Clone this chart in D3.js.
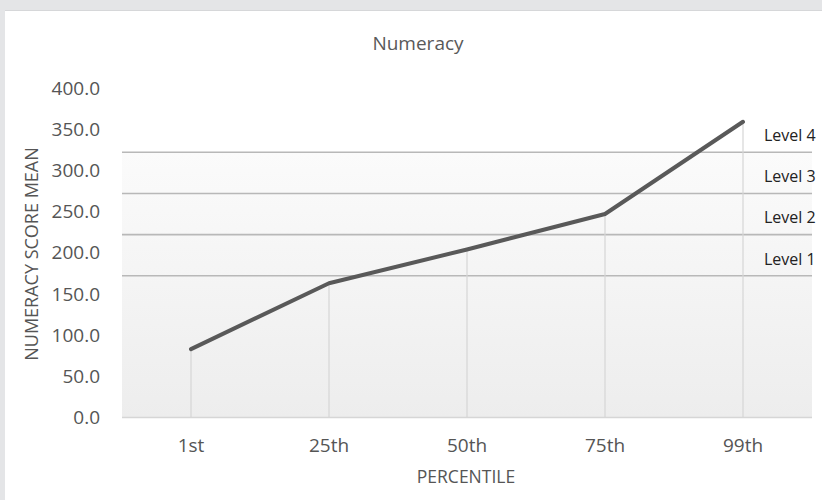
<!DOCTYPE html>
<html>
<head>
<meta charset="utf-8">
<script src="https://cdn.jsdelivr.net/npm/d3@7/dist/d3.min.js"></script>
<style>
  html, body { margin: 0; padding: 0; background: #e4e5e7; }
  svg { display: block; }
</style>
</head>
<body>
<svg id="chart" width="822" height="500"></svg>
<script>
const categories = ["1st", "25th", "50th", "75th", "99th"];
const scores = [83, 163, 204, 247, 359];
const yTicks = [0, 50, 100, 150, 200, 250, 300, 350, 400];
const levelNames = ["Level 1", "Level 2", "Level 3", "Level 4"];
const levelBounds = [172, 222, 272, 322];

const svg = d3.select("#chart");
const W = 822, H = 500;
const m = { left: 122, right: 10, top: 88, bottom: 82.5 };

// panel
svg.append("rect").attr("x", 0).attr("y", 0).attr("width", W).attr("height", H).attr("fill", "#e4e5e7");
svg.append("rect").attr("x", 5).attr("y", 10).attr("width", W - 5).attr("height", H - 10).attr("fill", "#d6d7d9");
svg.append("rect").attr("x", 5).attr("y", 11).attr("width", W - 5).attr("height", H - 11).attr("fill", "#ffffff");

const x = d3.scaleBand().domain(categories).range([m.left, W - m.right]);
const y = d3.scaleLinear().domain([0, 400]).range([H - m.bottom, m.top]);

const defs = svg.append("defs");
const grad = defs.append("linearGradient").attr("id", "bg").attr("x1", 0).attr("y1", 0).attr("x2", 0).attr("y2", 1);
grad.append("stop").attr("offset", "0%").attr("stop-color", "#fbfbfb");
grad.append("stop").attr("offset", "100%").attr("stop-color", "#ededed");

const topBound = d3.max(levelBounds);
svg.append("rect")
  .attr("x", m.left).attr("y", y(topBound))
  .attr("width", W - m.right - m.left).attr("height", y(0) - y(topBound))
  .attr("fill", "url(#bg)");

// level lines
svg.append("g").selectAll("line").data(levelBounds).join("line")
  .attr("x1", m.left).attr("x2", W - m.right)
  .attr("y1", d => y(d)).attr("y2", d => y(d))
  .attr("stroke", "#b8b8b8").attr("stroke-width", 1.6);

// level labels
svg.append("g").selectAll("text").data(levelNames).join("text")
  .attr("x", 764)
  .attr("y", (d, i) => y(levelBounds[i] + 25) + 5)
  .attr("dominant-baseline", "middle")
  .attr("font-family", "Open Sans")
  .attr("font-size", 16)
  .attr("fill", "#222")
  .text(d => d);

// x axis line
svg.append("line")
  .attr("x1", m.left).attr("x2", W - m.right)
  .attr("y1", y(0)).attr("y2", y(0))
  .attr("stroke", "#d6d6d6").attr("stroke-width", 1.5);

// drop lines
svg.append("g").selectAll("line").data(categories).join("line")
  .attr("x1", d => x(d) + x.bandwidth() / 2).attr("x2", d => x(d) + x.bandwidth() / 2)
  .attr("y1", (d, i) => y(scores[i])).attr("y2", y(0))
  .attr("stroke", "#d6d6d6").attr("stroke-width", 1.2);

// y axis (labels only)
const yAxis = d3.axisLeft(y).tickValues(yTicks).tickFormat(d3.format(".1f")).tickSize(0).tickPadding(0);
const gy = svg.append("g").attr("transform", `translate(100,0)`).call(yAxis);
gy.select(".domain").remove();
gy.selectAll("text").attr("font-family", "Open Sans").attr("font-size", 19).attr("fill", "#555");

// x axis (labels only)
const xAxis = d3.axisBottom(x).tickSize(0).tickPadding(0);
const gx = svg.append("g").attr("transform", `translate(0,${y(0)})`).call(xAxis);
gx.select(".domain").remove();
gx.selectAll("text").attr("font-family", "Open Sans").attr("font-size", 19).attr("fill", "#555")
  .attr("dy", null).attr("y", 29).attr("dominant-baseline", "middle");

// line
const line = d3.line().x((d, i) => x(categories[i]) + x.bandwidth() / 2).y(d => y(d));
svg.append("path").datum(scores)
  .attr("d", line)
  .attr("fill", "none").attr("stroke", "#595959").attr("stroke-width", 4)
  .attr("stroke-linecap", "round").attr("stroke-linejoin", "round");

// titles
svg.append("text").attr("x", 418).attr("y", 45)
  .attr("text-anchor", "middle").attr("dominant-baseline", "middle")
  .attr("font-family", "Open Sans").attr("font-size", 19).attr("fill", "#595959")
  .text("Numeracy");

svg.append("text").attr("x", 466).attr("y", 478)
  .attr("text-anchor", "middle").attr("dominant-baseline", "middle")
  .attr("font-family", "Open Sans").attr("font-size", 17.5).attr("fill", "#555")
  .text("PERCENTILE");

svg.append("text").attr("transform", "translate(33,254) rotate(-90)")
  .attr("text-anchor", "middle").attr("dominant-baseline", "middle")
  .attr("font-family", "Open Sans").attr("font-size", 18).attr("fill", "#555")
  .text("NUMERACY SCORE MEAN");
</script>
</body>
</html>
